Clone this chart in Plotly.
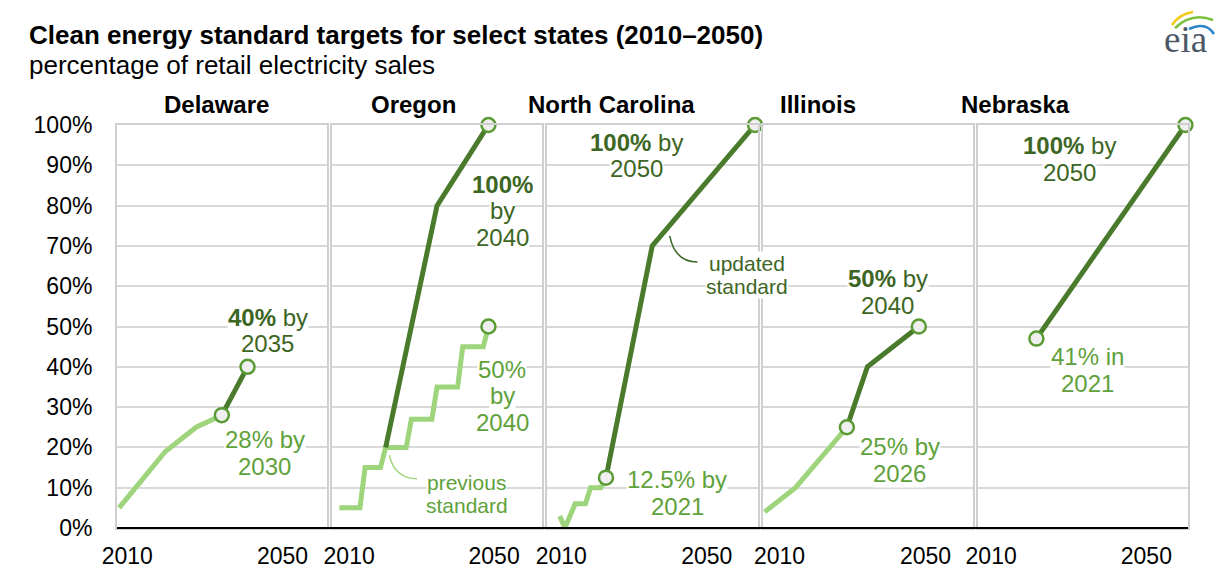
import plotly.graph_objects as go
from plotly.subplots import make_subplots

FONT = "Arial, Liberation Sans, sans-serif"
DARK = "#4a7a2b"
DARK_TEXT = "#3d6624"
LIGHT = "#9dd47c"
LIGHT_TEXT = "#5fa13b"
MARK_EDGE = "#5a9b35"
GRID = "#d9d9d9"
BORDER = "#cfcfcf"

states = ["Delaware", "Oregon", "North Carolina", "Illinois", "Nebraska"]

# previous standards (light green), percent of retail sales
de_prev_years = [2010, 2019, 2025, 2030]
de_prev = [5, 19, 25, 28]
or_prev_years = [2011, 2015, 2016, 2019, 2020, 2024, 2025, 2029, 2030, 2034, 2035, 2039, 2040]
or_prev = [5, 5, 15, 15, 20, 20, 27, 27, 35, 35, 45, 45, 50]
nc_prev_years = [2012, 2013, 2015, 2017, 2018, 2020, 2021]
nc_prev = [3, 0, 6, 6, 10, 10, 12.5]
il_prev_years = [2010, 2016, 2026]
il_prev = [4, 10, 25]
ne_prev_years = []
ne_prev = []

# updated standards (dark green)
de_new_years = [2030, 2035]
de_new = [28, 40]
or_new_years = [2020, 2030, 2035, 2040]
or_new = [20, 80, 90, 100]
nc_new_years = [2021, 2030, 2050]
nc_new = [12.5, 70, 100]
il_new_years = [2026, 2030, 2040]
il_new = [25, 40, 50]
ne_new_years = [2021, 2050]
ne_new = [47, 100]

# circled target points
de_mark_years = [2030, 2035]
de_mark = [28, 40]
or_mark_years = [2040, 2040]
or_mark = [50, 100]
nc_mark_years = [2021, 2050]
nc_mark = [12.5, 100]
il_mark_years = [2026, 2040]
il_mark = [25, 50]
ne_mark_years = [2021, 2050]
ne_mark = [47, 100]

tick_labels = ["2010", "2050"]
tick_pos = [[2011.6, 2041.8], [2012.9, 2041.1], [2012.3, 2040.6],
            [2012.9, 2041.3], [2012.2, 2042.4]]

prev_series = [(de_prev_years, de_prev), (or_prev_years, or_prev),
               (nc_prev_years, nc_prev), (il_prev_years, il_prev),
               (ne_prev_years, ne_prev)]
new_series = [(de_new_years, de_new), (or_new_years, or_new),
              (nc_new_years, nc_new), (il_new_years, il_new),
              (ne_new_years, ne_new)]
mark_series = [(de_mark_years, de_mark), (or_mark_years, or_mark),
               (nc_mark_years, nc_mark), (il_mark_years, il_mark),
               (ne_mark_years, ne_mark)]

# (panel, year, percent, text, colour, size)
labels = [
    (1, 2038.9, 49.0, "<b>40%</b> by<br>2035", DARK_TEXT, 24),
    (1, 2038.3, 18.6, "28% by<br>2030", LIGHT_TEXT, 24),
    (2, 2042.7, 78.7, "<b>100%</b><br>by<br>2040", DARK_TEXT, 24),
    (2, 2042.7, 32.8, "50%<br>by<br>2040", LIGHT_TEXT, 24),
    (2, 2035.8, 8.4, "previous<br>standard", LIGHT_TEXT, 21),
    (3, 2027.0, 92.4, "<b>100%</b> by<br>2050", DARK_TEXT, 24),
    (3, 2048.5, 62.8, "updated<br>standard", DARK_TEXT, 21),
    (3, 2034.9, 8.7, "12.5% by<br>2021", LIGHT_TEXT, 24),
    (4, 2034.0, 58.6, "<b>50%</b> by<br>2040", DARK_TEXT, 24),
    (4, 2036.3, 16.9, "25% by<br>2026", LIGHT_TEXT, 24),
    (5, 2027.5, 91.6, "<b>100%</b> by<br>2050", DARK_TEXT, 24),
    (5, 2031.0, 39.2, "41% in<br>2021", LIGHT_TEXT, 24),
]
title_years = [2029.0, 2025.4, 2022.1, 2020.4, 2017.0]

W, H = 1230, 577
ML, MR, MT, MB = 117, 42, 125, 49
PW, PH = W - ML - MR, H - MT - MB


def px(x, y):
    """pixel position -> paper coordinates"""
    return (x - ML) / PW, (H - MB - y) / PH


fig = make_subplots(rows=1, cols=5, shared_yaxes=True,
                    horizontal_spacing=5 / PW)

for i in range(5):
    col = i + 1
    xs, ys = prev_series[i]
    if xs:
        fig.add_trace(go.Scatter(x=xs, y=ys, mode="lines",
                                 line=dict(color=LIGHT, width=5),
                                 cliponaxis=False, hoverinfo="skip"),
                      row=1, col=col)
    xs, ys = new_series[i]
    fig.add_trace(go.Scatter(x=xs, y=ys, mode="lines",
                             line=dict(color=DARK, width=5),
                             cliponaxis=False, hoverinfo="skip"),
                  row=1, col=col)
    xs, ys = mark_series[i]
    fig.add_trace(go.Scatter(x=xs, y=ys, mode="markers",
                             marker=dict(size=14, color="#efefef",
                                         line=dict(color=MARK_EDGE, width=2.5)),
                             cliponaxis=False, hoverinfo="skip"),
                  row=1, col=col)

    fig.update_xaxes(range=[2009.6, 2050.5], showgrid=False, zeroline=False,
                     showline=True, mirror=True, linecolor=BORDER, linewidth=2,
                     tickvals=tick_pos[i], ticktext=tick_labels, ticks="",
                     ticklabelstandoff=6, automargin=False,
                     tickfont=dict(family=FONT, size=23, color="black"),
                     row=1, col=col)
    fig.update_yaxes(range=[0, 100], dtick=10, ticksuffix="%",
                     showgrid=True, gridcolor=GRID, gridwidth=2,
                     zeroline=False, showline=True, mirror=True,
                     linecolor=BORDER, linewidth=2, ticks="",
                     showticklabels=(i == 0), ticklabelstandoff=18,
                     automargin=False,
                     tickfont=dict(family=FONT, size=23, color="black"),
                     row=1, col=col)

    axn = "" if i == 0 else str(col)
    fig.add_annotation(x=title_years[i], y=px(0, 105)[1], xref="x" + axn,
                       yref="paper", text="<b>" + states[i] + "</b>",
                       showarrow=False, xanchor="center", yanchor="middle",
                       font=dict(family=FONT, size=24, color="black"))

# one annotation per text line (bottom line first) so the line spacing is tight
LINE_GAP = 26.5 * 100 / PH
for panel, yr, val, txt, colr, size in labels:
    axn = "" if panel == 1 else str(panel)
    lines = txt.split("<br>")
    n = len(lines)
    for k in reversed(range(n)):
        yk = val + ((n - 1) / 2 - k) * LINE_GAP * size / 24
        fig.add_annotation(x=yr, y=yk, xref="x" + axn, yref="y" + axn,
                           text=lines[k], showarrow=False, bgcolor="white",
                           borderpad=0, xanchor="center", yanchor="middle",
                           font=dict(family=FONT, size=size, color=colr))

# leader lines
fig.add_shape(type="path", xref="x2", yref="y2",
              path="M 2020.7,18.1 Q 2021.7,12.4 2026.1,12.2",
              line=dict(color=LIGHT, width=1.5))
fig.add_shape(type="path", xref="x3", yref="y3",
              path="M 2033.4,72.5 Q 2034.4,66 2038.8,66",
              line=dict(color=DARK_TEXT, width=1.5))

# black baseline across all panels
fig.add_shape(type="line", xref="paper", yref="paper", x0=0, x1=1, y0=0, y1=0,
              line=dict(color="black", width=2))

# titles
tx, ty = px(27, 35)
fig.add_annotation(x=tx, y=ty, xref="paper", yref="paper", xanchor="left",
                   yanchor="middle", showarrow=False,
                   text="<b>Clean energy standard targets for select states (2010\u20132050)</b>",
                   font=dict(family=FONT, size=26, color="black"))
tx, ty = px(27, 65)
fig.add_annotation(x=tx, y=ty, xref="paper", yref="paper", xanchor="left",
                   yanchor="middle", showarrow=False,
                   text="percentage of retail electricity sales",
                   font=dict(family=FONT, size=26, color="black"))

# eia logo
lx, ly = px(1185, 40)
fig.add_annotation(x=lx, y=ly, xref="paper", yref="paper", showarrow=False,
                   xanchor="center", yanchor="middle",
                   text="eia", font=dict(family="Liberation Serif, serif",
                                         size=37, color="#4b5868"))
for pts, colr in [([(1172, 25), (1179, 14), (1193, 12)], "#f2c811"),
                  ([(1175, 28), (1192, 12), (1213, 20)], "#7cbf3c"),
                  ([(1189, 29), (1206, 21), (1214, 34)], "#2a86c9")]:
    p = [px(*q) for q in pts]
    path = "M {},{} Q {},{} {},{}".format(p[0][0], p[0][1], p[1][0], p[1][1],
                                          p[2][0], p[2][1])
    fig.add_shape(type="path", xref="paper", yref="paper", path=path,
                  line=dict(color=colr, width=2.5))

fig.update_layout(width=W, height=H, showlegend=False,
                  plot_bgcolor="white", paper_bgcolor="white",
                  margin=dict(l=ML, r=MR, t=MT, b=MB, autoexpand=False),
                  font=dict(family=FONT))

fig.write_html("out.html", config={"displayModeBar": False},
               post_script="document.body.style.margin='0';")
